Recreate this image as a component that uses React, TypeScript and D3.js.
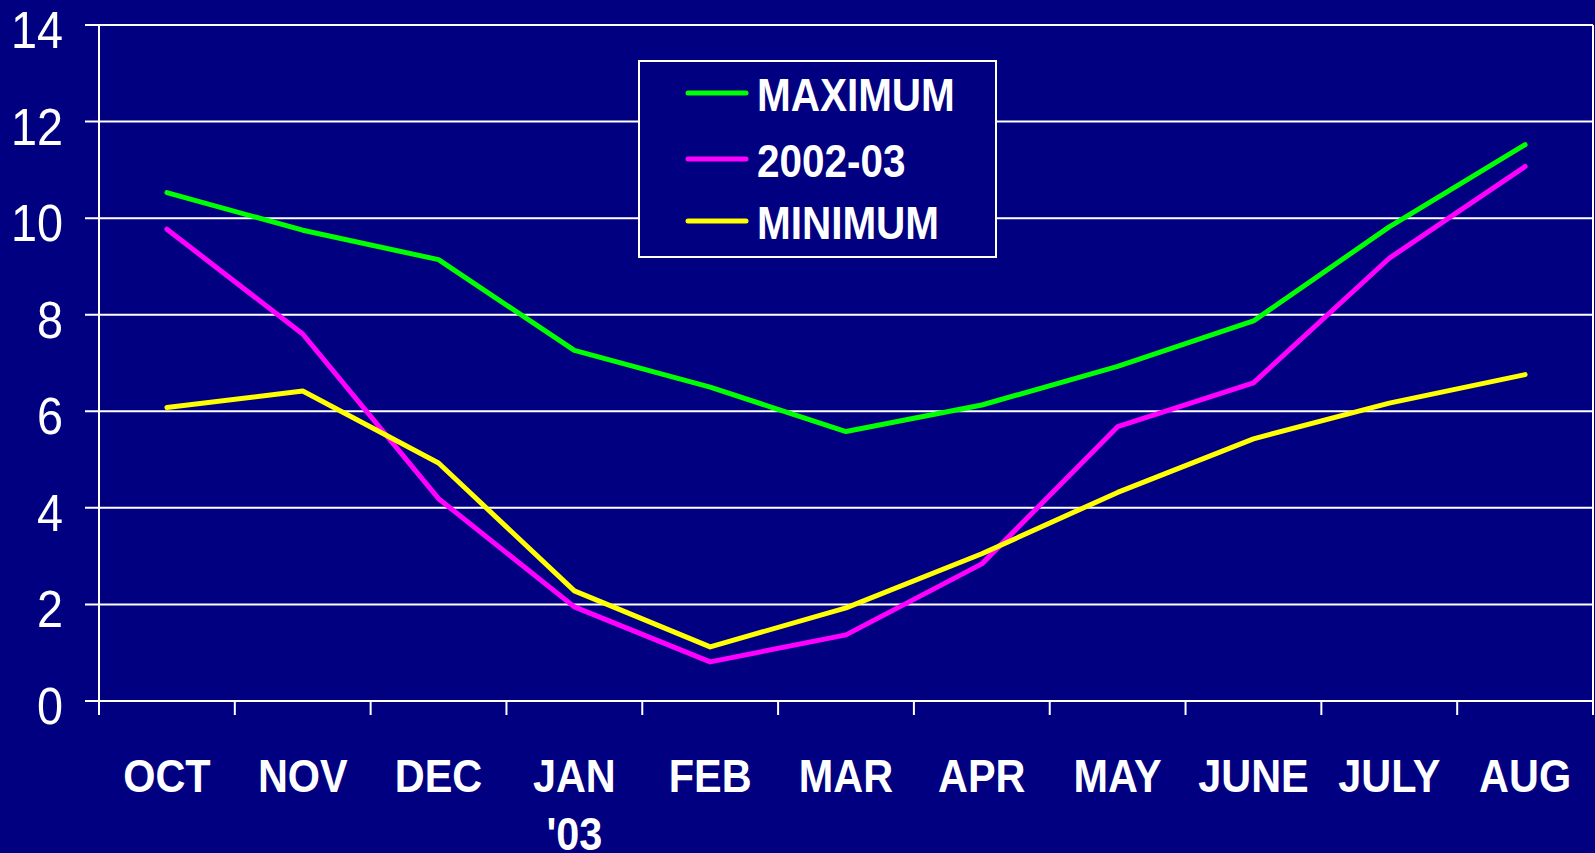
import React from "react";
import * as d3 from "d3";

const months: string[][] = [["OCT"], ["NOV"], ["DEC"], ["JAN", "'03"], ["FEB"], ["MAR"], ["APR"], ["MAY"], ["JUNE"], ["JULY"], ["AUG"]];
const maximum = [10.53, 9.75, 9.14, 7.26, 6.5, 5.58, 6.13, 6.93, 7.87, 9.82, 11.52];
const season2002 = [9.77, 7.6, 4.19, 1.95, 0.81, 1.37, 2.84, 5.68, 6.59, 9.17, 11.07];
const minimum = [6.08, 6.42, 4.93, 2.28, 1.12, 1.93, 3.05, 4.32, 5.43, 6.17, 6.76];
const yTicks = [0, 2, 4, 6, 8, 10, 12, 14];

const series = [
  { name: "MAXIMUM", color: "#00FF00", values: maximum },
  { name: "2002-03", color: "#FF00FF", values: season2002 },
  { name: "MINIMUM", color: "#FFFF00", values: minimum },
];

export default function App() {
  const W = 1595, H = 853;
  const left = 99, right = 1593, top = 25, bottom = 701;
  const x = d3.scaleBand<number>().domain(d3.range(months.length)).range([left, right]).padding(0);
  const y = d3.scaleLinear().domain([0, 14]).range([bottom, top]);
  const line = d3.line<number>().x((_, i) => (x(i) as number) + x.bandwidth() / 2).y((d) => y(d));
  const boundaries = d3.range(months.length + 1).map((i) => left + i * x.bandwidth());
  const font = "'Liberation Sans', Arial, sans-serif";

  const legend = { x: 639, y: 61, w: 357, h: 196 };
  const legendRows = [93, 159, 221];

  return (
    <svg width={W} height={H} style={{ position: "fixed", left: 0, top: 0 }} fontFamily={font}>
      <rect x={0} y={0} width={W} height={H} fill="#000080" />
      {yTicks.map((t) => (
        <g key={t}>
          <line x1={85} x2={right} y1={y(t)} y2={y(t)} stroke="#fff" strokeWidth={2} />
          <g transform={`translate(63,${y(t) + 23}) scale(0.9,1)`}>
            <text x={0} y={0} textAnchor="end" fill="#fff" fontSize={52}>{t}</text>
          </g>
        </g>
      ))}
      <line x1={left} x2={left} y1={top} y2={715} stroke="#fff" strokeWidth={2} />
      <line x1={right} x2={right} y1={top} y2={715} stroke="#fff" strokeWidth={2} />
      {boundaries.map((bx, i) => (
        <line key={i} x1={bx} x2={bx} y1={bottom} y2={715} stroke="#fff" strokeWidth={2} />
      ))}
      {months.map((m, i) => {
        const cx = (x(i) as number) + x.bandwidth() / 2;
        return (
          <g key={i} transform={`translate(${cx},0) scale(0.9,1)`}>
            {m.map((s, j) => (
              <text key={j} x={0} y={792 + j * 58} textAnchor="middle" fill="#fff" fontSize={46} fontWeight="bold">{s}</text>
            ))}
          </g>
        );
      })}
      {series.map((s) => (
        <path key={s.name} d={line(s.values) || ""} fill="none" stroke={s.color} strokeWidth={5} strokeLinejoin="round" strokeLinecap="round" />
      ))}
      <rect x={legend.x} y={legend.y} width={legend.w} height={legend.h} fill="#000080" stroke="#fff" strokeWidth={2} />
      {series.map((s, i) => (
        <g key={s.name}>
          <line x1={688} x2={746} y1={legendRows[i]} y2={legendRows[i]} stroke={s.color} strokeWidth={5} strokeLinecap="round" />
          <g transform={`translate(757,0) scale(0.88,1)`}>
            <text x={0} y={legendRows[i] + 18} fill="#fff" fontSize={46} fontWeight="bold">{s.name}</text>
          </g>
        </g>
      ))}
    </svg>
  );
}
